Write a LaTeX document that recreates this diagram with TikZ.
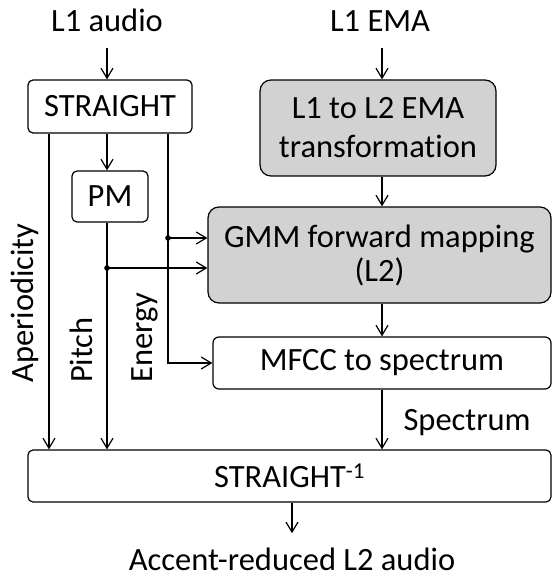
\documentclass[tikz,border=0pt]{standalone}
\usepackage{fontspec}
\setmainfont{Carlito}[Ligatures=NoCommon]
\usetikzlibrary{arrows.meta, positioning}
\definecolor{BoxGray}{RGB}{210,210,210}
\tikzstyle{flow} = [line width=1.2pt, -{Straight Barb[length=10pt, width=12pt]}]
\tikzstyle{block} = [draw, line width=1.2pt, rounded corners=5pt, inner sep=0pt, align=center]
\tikzstyle{grayblock} = [block, fill=BoxGray, rounded corners=11pt]
\tikzstyle{sigtext} = [rotate=90, anchor=base west, inner sep=0pt]

\begin{document}
\begin{tikzpicture}[x=1pt, y=-1pt, font=\fontsize{32.5}{37}\selectfont]
    \useasboundingbox (0,0) rectangle (553,575);

    % Inputs
    \node[anchor=base] (audioin) at (107,32) {L1 audio};
    \node[anchor=base] (emain) at (380,32) {L1 EMA};

    % Blocks
    \node[block, minimum width=164pt, minimum height=53pt] (straight) at (110,106.5) {STRAIGHT};
    \node[block, minimum width=76pt, minimum height=51pt] (pm) at (110,196.5) {PM};
    \node[grayblock, minimum width=236pt, minimum height=96pt] (ematrans) at (378,128) {L1 to L2 EMA\\[2pt] transformation};
    \node[grayblock, minimum width=343pt, minimum height=96pt] (gmm) at (379.5,255) {GMM forward mapping\\[-3pt] (L2)};
    \node[block, rounded corners=6pt, minimum width=338pt, minimum height=52pt] (mfcc) at (382,363) {MFCC to spectrum};
    \node[block, minimum width=523pt, minimum height=52pt] (istraight) at (289.5,476) {STRAIGHT\textsuperscript{-1}};

    % Output
    \node[anchor=base, inner sep=0pt] (audioout) at (292,570) {Accent-reduced L2 audio};

    % Columns
    \coordinate (acol) at (49,0);
    \coordinate (pcol) at (107,0);
    \coordinate (ecol) at (168,0);
    \coordinate (scol) at (382,0);
    \coordinate (edot) at (168,238);
    \coordinate (pdot) at (107,268);

    % Main flow
    \draw[flow] ([yshift=-16pt]audioin.base) -- (straight.north -| audioin.base);
    \draw[flow] ([yshift=-16pt]emain.base -| scol) -- (ematrans.north -| scol);
    \draw[flow] (straight.south -| pcol) -- (pm.north -| pcol);
    \draw[flow] (ematrans.south -| scol) -- (gmm.north -| scol);
    \draw[flow] (gmm.south -| scol) -- (mfcc.north -| scol);
    \draw[flow] (mfcc.south -| scol) -- (istraight.north -| scol);
    \draw[flow] (istraight.south -| audioout) -- ([yshift=14pt]audioout.north);

    % Side signals
    \draw[flow] (straight.south -| acol) -- (istraight.north -| acol);
    \draw[flow] (pm.south -| pcol) -- (istraight.north -| pcol);
    \draw[flow] (straight.south -| ecol) |- (mfcc.west);
    \draw[flow] (edot) -- (edot -| gmm.west);
    \draw[flow] (pdot) -- (pdot -| gmm.west);
    \fill (edot) circle (2.8pt);
    \fill (pdot) circle (2.8pt);

    % Labels
    \node[sigtext] (aplabel) at (33,383) {Aperiodicity};
    \node[sigtext] (pilabel) at (92,383) {Pitch};
    \node[sigtext] (enlabel) at (152,383) {Energy};
    \node[anchor=base west] (splabel) at (400,430) {Spectrum};
\end{tikzpicture}
\end{document}
